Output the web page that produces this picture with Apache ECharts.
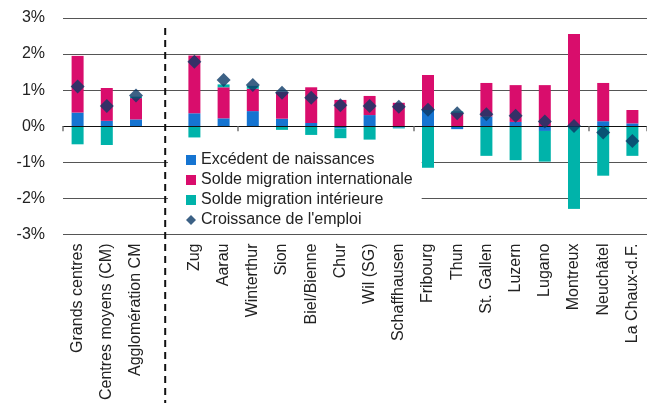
<!DOCTYPE html>
<html>
<head>
<meta charset="utf-8">
<script src="https://cdn.jsdelivr.net/npm/echarts@6/dist/echarts.min.js"></script>
<style>html,body{margin:0;padding:0;background:#fff;}#c{width:647px;height:403px;}</style>
</head>
<body>
<div id="c"></div>
<script>
var categories = ['Grands centres','Centres moyens (CM)','Agglomération CM','','Zug','Aarau','Winterthur','Sion','Biel/Bienne','Chur','Wil (SG)','Schaffhausen','Fribourg','Thun','St. Gallen','Luzern','Lugano','Montreux','Neuchâtel','La Chaux-d.F.'];
var naissances    = [0.38, 0.15, 0.19, null, 0.36, 0.22, 0.42, 0.21, 0.09, -0.06, 0.31, -0.04, 0.45, -0.08, 0.27, 0.12, -0.13, 0.00, 0.14, 0.08];
var international = [1.57, 0.91, 0.59, null, 1.60, 0.86, 0.62, 0.74, 0.99, 0.73, 0.53, 0.65, 0.97, 0.38, 0.93, 1.02, 1.14, 2.56, 1.06, 0.37];
var interieure    = [-0.50, -0.52, 0.04, null, -0.31, 0.08, 0.08, -0.10, -0.24, -0.27, -0.37, -0.02, -1.15, 0.03, -0.82, -0.94, -0.85, -2.29, -1.37, -0.82];
var emploi        = [1.10, 0.56, 0.85, null, 1.79, 1.28, 1.14, 0.93, 0.79, 0.58, 0.56, 0.54, 0.46, 0.36, 0.33, 0.29, 0.13, 0.01, -0.17, -0.41];
var yTicks = [-3, -2, -1, 0, 1, 2, 3];
var seriesNames = ['Excédent de naissances', 'Solde migration internationale', 'Solde migration intérieure', "Croissance de l'emploi"];
var separatorIndex = 3;

var FONT = "'Liberation Sans', Arial, sans-serif";
var TXT = '#222';
var chart = echarts.init(document.getElementById('c'), null, {renderer: 'canvas'});
var option = {
  animation: false,
  textStyle: {fontFamily: FONT},
  grid: {left: 63, right: -8, top: 18, bottom: 168, containLabel: false},
  legend: {
    orient: 'vertical', left: 168, top: 146,
    padding: [6, 9, 6, 18], backgroundColor: '#fff',
    itemWidth: 10, itemHeight: 10, itemGap: 4,
    textStyle: {fontSize: 16, color: TXT, fontFamily: FONT},
    data: [
      {name: seriesNames[0], icon: 'rect'},
      {name: seriesNames[1], icon: 'rect'},
      {name: seriesNames[2], icon: 'rect'},
      {name: seriesNames[3], icon: 'diamond'}
    ],
    z: 20
  },
  xAxis: [{
    type: 'category', data: categories, position: 'bottom', z: 4,
    axisLine: {onZero: true, lineStyle: {color: '#111', width: 1}},
    axisTick: {show: true, length: 5, lineStyle: {color: '#777', width: 1.5}},
    axisLabel: {show: false}
  }, {
    type: 'category', data: categories, position: 'bottom',
    axisLine: {show: false, onZero: false},
    axisTick: {show: false},
    axisLabel: {rotate: 90, fontSize: 16, color: TXT, fontFamily: FONT, margin: 9, interval: 0}
  }],
  yAxis: {
    type: 'value', min: yTicks[0], max: yTicks[yTicks.length - 1], interval: 1,
    axisLine: {show: false}, axisTick: {show: false},
    axisLabel: {formatter: '{value}%', fontSize: 16, color: TXT, fontFamily: FONT, margin: 18},
    splitLine: {lineStyle: {color: '#555', width: 1}}
  },
  series: [
    {name: seriesNames[0], type: 'bar', stack: 's', data: naissances, barWidth: 12, itemStyle: {color: '#1574d1'}},
    {name: seriesNames[1], type: 'bar', stack: 's', data: international, barWidth: 12, itemStyle: {color: '#d90d6c'}},
    {name: seriesNames[2], type: 'bar', stack: 's', data: interieure, barWidth: 12, itemStyle: {color: '#00b3aa'}},
    {name: seriesNames[3], type: 'scatter', data: emploi, symbol: 'diamond', symbolSize: 14, itemStyle: {color: '#0b3a66'}, z: 10}
  ]
};
chart.setOption(option);
var sx = chart.convertToPixel({xAxisIndex: 0}, separatorIndex);
var sy = chart.convertToPixel({yAxisIndex: 0}, 2.72);
chart.setOption({
  graphic: [{
    type: 'line', z: 5,
    shape: {x1: sx, y1: sy, x2: sx, y2: 403},
    style: {stroke: '#111', lineWidth: 2, lineDash: [7, 5]}
  }]
});
</script>
</body>
</html>
